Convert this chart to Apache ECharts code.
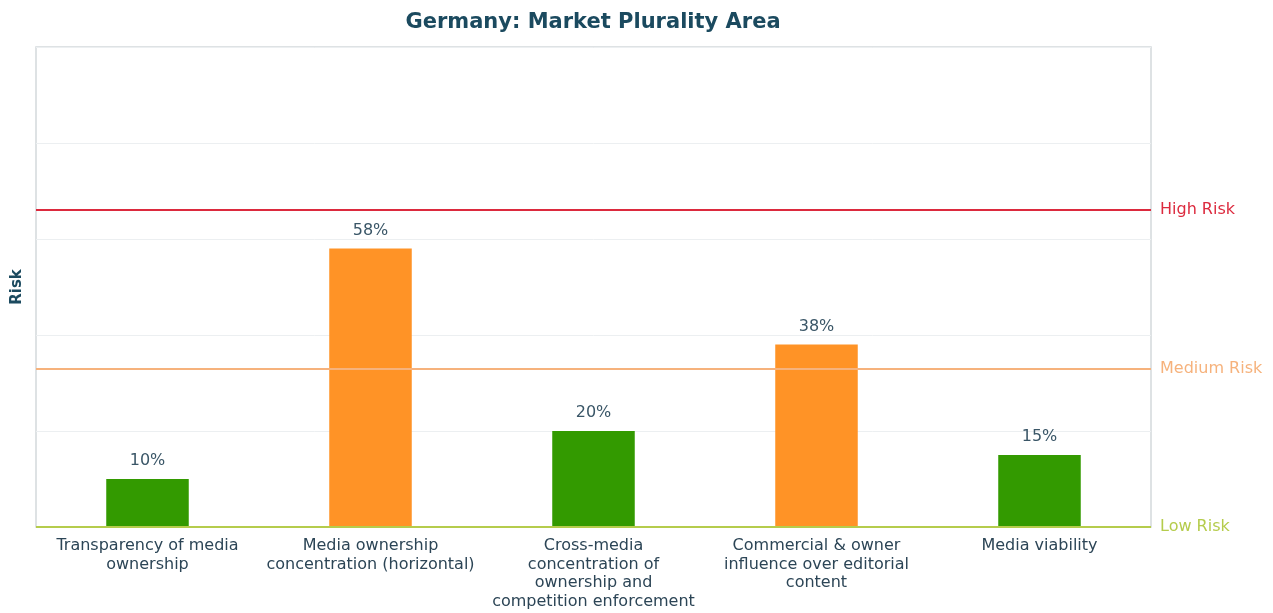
<!DOCTYPE html>
<html><head><meta charset="utf-8">
<script src="https://cdn.jsdelivr.net/npm/echarts@6/dist/echarts.min.js"></script>
<style>html,body{margin:0;padding:0;background:#fff}#c{width:1273px;height:613px}</style>
</head><body><div id="c"></div>
<script>
const categories = [
  "Transparency of media\nownership",
  "Media ownership\nconcentration (horizontal)",
  "Cross-media\nconcentration of\nownership and\ncompetition enforcement",
  "Commercial & owner\ninfluence over editorial\ncontent",
  "Media viability"
];
const values = [10, 58, 20, 38, 15];
const riskLevels = ["low", "medium", "low", "medium", "low"];
const thresholds = [
  {name: "Low Risk", value: 0},
  {name: "Medium Risk", value: 33},
  {name: "High Risk", value: 66}
];
const riskColors = {low: "#339a00", medium: "#ff9326"};
const lineColors = {"Low Risk": "#b5cc4c", "Medium Risk": "#f6b27c", "High Risk": "#dc2a3e"};

const chart = echarts.init(document.getElementById('c'), null, {renderer: 'canvas'});
chart.setOption({
  animation: false,
  backgroundColor: '#fff',
  title: {
    text: 'Germany: Market Plurality Area',
    left: 588, top: 7, textAlign: 'center',
    textStyle: {fontFamily: 'DejaVu Sans', fontSize: 21, fontWeight: 'bold', color: '#1b4a5f'}
  },
  grid: {left: 36, right: 122, top: 47, bottom: 86, show: true, borderColor: '#d3d9dc', borderWidth: 1.5,
    containLabel: false, outerBoundsMode: 'none'},
  xAxis: {
    type: 'category', data: categories,
    axisLine: {show: false}, axisTick: {show: false},
    axisLabel: {interval: 0, fontFamily: 'DejaVu Sans', fontSize: 16, color: '#2c4556', lineHeight: 18.5, margin: 10}
  },
  yAxis: {
    type: 'value', min: 0, max: 100, interval: 20,
    name: 'Risk', nameLocation: 'middle', nameGap: 11, nameRotate: 90,
    nameTextStyle: {fontFamily: 'DejaVu Sans', fontSize: 15, fontWeight: 'bold', color: '#1b4a5f'},
    axisLabel: {show: false}, axisTick: {show: false}, axisLine: {show: false},
    splitLine: {lineStyle: {color: '#eceff1', width: 1}}
  },
  series: [{
    type: 'bar', barWidth: '37%',
    data: values.map((v, i) => ({value: v, itemStyle: {color: riskColors[riskLevels[i]]}})),
    label: {show: true, position: 'top', distance: 10, formatter: '{c}%',
      fontFamily: 'DejaVu Sans', fontSize: 16, color: '#3a5667'},
    markLine: {
      silent: true, symbol: 'none',
      data: thresholds.map(t => ({
        yAxis: t.value, name: t.name,
        lineStyle: {color: lineColors[t.name], width: 2, type: 'solid'},
        label: {show: true, position: 'end', formatter: t.name, distance: 9,
          fontFamily: 'DejaVu Sans', fontSize: 16, color: lineColors[t.name]}
      }))
    }
  }]
});
</script></body></html>
